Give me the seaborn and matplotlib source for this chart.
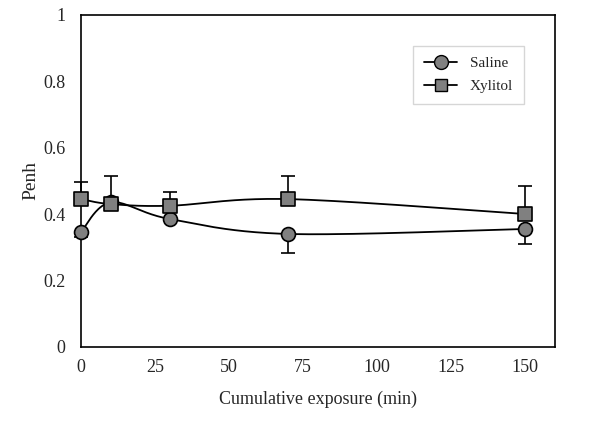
import numpy as np
import pandas as pd
import seaborn as sns
import matplotlib.pyplot as plt
from matplotlib.lines import Line2D

# data
minutes = [0, 10, 30, 70, 150]
saline = [0.346, 0.435, 0.385, 0.340, 0.355]
saline_err = [0.015, 0.01, 0.0, 0.056, 0.045]
xylitol = [0.445, 0.430, 0.425, 0.445, 0.400]
xylitol_err = [0.050, 0.085, 0.040, 0.070, 0.085]


def smooth(x, y, n=40):
    # Excel-style smoothed line (Catmull-Rom bezier through the points)
    x = np.asarray(x, float)
    y = np.asarray(y, float)
    px = np.concatenate([[x[0]], x, [x[-1]]])
    py = np.concatenate([[y[0]], y, [y[-1]]])
    xs, ys = [], []
    for i in range(1, len(px) - 2):
        p0 = np.array([px[i], py[i]])
        p3 = np.array([px[i + 1], py[i + 1]])
        p1 = p0 + (np.array([px[i + 1], py[i + 1]]) - np.array([px[i - 1], py[i - 1]])) / 6
        p2 = p3 - (np.array([px[i + 2], py[i + 2]]) - np.array([px[i], py[i]])) / 6
        t = np.linspace(0, 1, n)[:, None]
        b = (1 - t) ** 3 * p0 + 3 * (1 - t) ** 2 * t * p1 + 3 * (1 - t) * t ** 2 * p2 + t ** 3 * p3
        xs.extend(b[:, 0])
        ys.extend(b[:, 1])
    return xs, ys


sns.set_style("white")
plt.rcParams['font.family'] = ['Liberation Serif', 'DejaVu Serif']

fig = plt.figure(figsize=(6, 4.23), dpi=100)
ax = fig.add_axes([0.135, 0.18, 0.79, 0.785])

grey = '#808080'

# error bars (saline downwards, xylitol upwards)
for vals, err in [(saline, [saline_err, [0] * 5]), (xylitol, [[0] * 5, xylitol_err])]:
    eb = ax.errorbar(minutes, vals, yerr=err, fmt='none', ecolor='black',
                     elinewidth=1.2, capsize=5, capthick=1.2, zorder=2)
    for art in eb.lines[1] + eb.lines[2]:
        art.set_clip_on(False)

sx, sy = smooth(minutes, saline)
xx, xy = smooth(minutes, xylitol)
sns.lineplot(x=sx, y=sy, ax=ax, color='black', lw=1.3, sort=False, zorder=3)
sns.lineplot(x=xx, y=xy, ax=ax, color='black', lw=1.3, sort=False, zorder=3)

df = pd.DataFrame({'minutes': minutes, 'saline': saline, 'xylitol': xylitol})
sns.scatterplot(data=df, x='minutes', y='saline', ax=ax, marker='o', s=100,
                color=grey, edgecolor='black', linewidth=1.2, zorder=4, clip_on=False)
sns.scatterplot(data=df, x='minutes', y='xylitol', ax=ax, marker='s', s=100,
                color=grey, edgecolor='black', linewidth=1.2, zorder=5, clip_on=False)

ax.set_xlim(0, 160)
ax.set_ylim(0, 1)
ax.set_xticks([0, 25, 50, 75, 100, 125, 150])
ax.set_yticks([0, 0.2, 0.4, 0.6, 0.8, 1])
ax.set_yticklabels(['0', '0.2', '0.4', '0.6', '0.8', '1'])
ax.tick_params(axis='y', direction='out', length=5, width=1, labelsize=13, pad=6)
ax.tick_params(axis='x', length=0, labelsize=13, pad=9)
for s in ax.spines.values():
    s.set_color('black')
    s.set_linewidth(1.2)

ax.set_xlabel('Cumulative exposure (min)', fontsize=13, labelpad=10)
ax.set_ylabel('Penh', fontsize=14, labelpad=3)

handles = [
    Line2D([], [], color='black', lw=1.3, marker='o', markersize=10,
           markerfacecolor=grey, markeredgecolor='black'),
    Line2D([], [], color='black', lw=1.3, marker='s', markersize=9,
           markerfacecolor=grey, markeredgecolor='black'),
]
leg = ax.legend(handles, ['Saline', 'Xylitol'], loc='upper right',
                bbox_to_anchor=(0.95, 0.93), fontsize=11, frameon=True,
                fancybox=False, edgecolor='#cccccc', handlelength=2.2,
                borderpad=0.7, labelspacing=0.6)

fig.savefig('out.png', dpi=100)
